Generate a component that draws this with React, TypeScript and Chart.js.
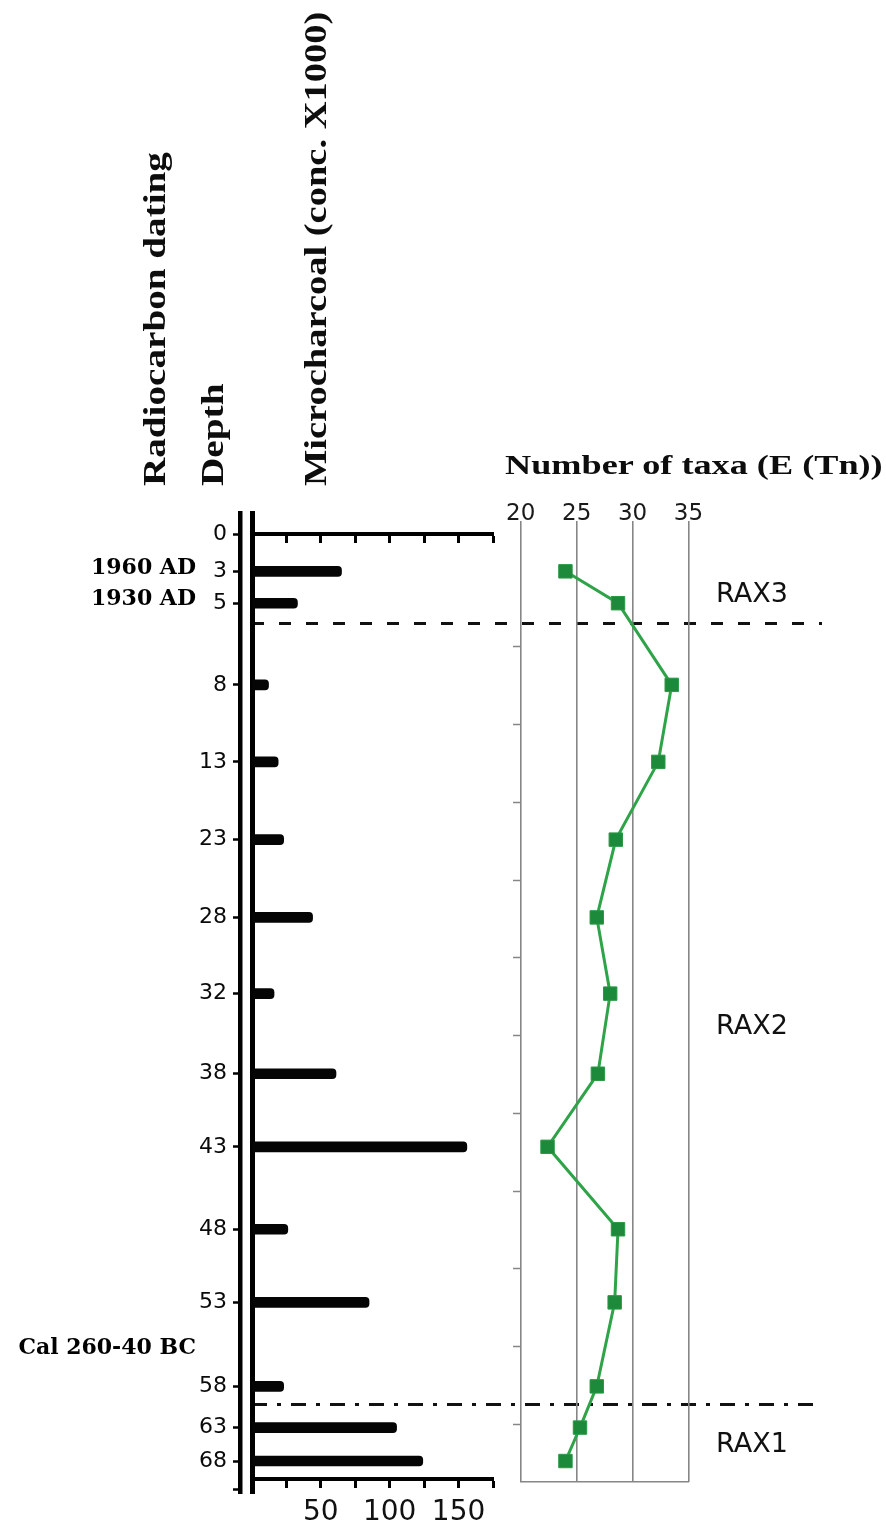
import React, { useEffect, useLayoutEffect, useRef } from 'react';
import { Chart, registerables } from 'chart.js';

Chart.register(...registerables);

// ---------------- data ----------------
const depthLabels = ['0', '3', '5', '8', '13', '23', '28', '32', '38', '43', '48', '53', '58', '63', '68'];
// position of each sampled depth along the (irregular) depth column, in row units
const depthLevels = [0, 0.48, 0.89, 1.94, 2.93, 3.93, 4.93, 5.91, 6.94, 7.88, 8.94, 9.88, 10.96, 11.49, 11.92];
// microcharcoal concentration (x1000) for depths 3 ... 68
const microcharcoal = [65, 33, 12, 19, 23, 44, 16, 61, 156, 26, 85, 23, 105, 124];
// number of taxa E(Tn) for depths 3 ... 68
const taxaNumber = [24.0, 28.7, 33.5, 32.3, 28.5, 26.8, 28.0, 26.9, 22.4, 28.7, 28.4, 26.8, 25.3, 24.0];
const datingLabels = ['1960 AD', '1930 AD', 'Cal 260-40 BC'];
const datingLevels = [0.44, 0.84, 10.47];
const zoneLabels = ['RAX3', 'RAX2', 'RAX1'];
const zoneLabelLevels = [0.78, 6.34, 11.71];
const zoneBoundaryDashed = [1.157];
const zoneBoundaryDashDot = [11.187];
const depthAxisEndLevel = 12.29;
const charcoalTicks = [0, 25, 50, 75, 100, 125, 150, 175];
const charcoalTickLabels = [50, 100, 150];
const charcoalAxisLevel = 12.15;
const taxaTicks = [20, 25, 30, 35];
const taxaRowTicks = [1.45, 2.45, 3.45, 4.45, 5.45, 6.45, 7.45, 8.45, 9.45, 10.45, 11.45];

// ---------------- layout ----------------
const PAGE_W = 886;
const PAGE_H = 1527;
const LEVEL_ORIGIN_PX = 534;
const LEVEL_PX = 77.77;
const toLevel = (px: number) => (px - LEVEL_ORIGIN_PX) / LEVEL_PX;
const BAR_AREA = { left: 252, right: 493, top: 513, bottom: 1493 };
const DATE_AXIS_LEFT = 8;
const DEPTH_LABEL_LEFT = 196;
const DEPTH_AXIS_X = 240;
const TAXA_AREA = { left: 493, right: 822, top: 521, bottom: 1482 };
const TAXA_LABEL_BAND = 30;
const TAXA_LEFT_PX = 520.7;
const TAXA_RIGHT_PX = 688.5;

const SANS = '"DejaVu Sans", "Liberation Sans", sans-serif';
const SERIF = '"DejaVu Serif", "Liberation Serif", serif';
const GRID_GRAY = '#868686';
const DASH = [12, 15];
const DASH_DOT = [15, 10, 4, 10];
const dashLen = (d: number[]) => d.reduce((a, b) => a + b, 0);

type Range = { min: number; max: number };
const rangeFor = (area: { top: number; bottom: number }): Range => ({ min: toLevel(area.top), max: toLevel(area.bottom) });
const setTicks = (values: number[]) => (scale: any) => {
  scale.ticks = values.map((value) => ({ value }));
};
const fixSize = (w?: number, h?: number) => (scale: any) => {
  if (w !== undefined) scale.width = w;
  if (h !== undefined) scale.height = h;
  scale.paddingTop = 0;
  scale.paddingBottom = 0;
  scale.paddingLeft = 0;
  scale.paddingRight = 0;
};
const levelAxis = (range: Range) => ({
  axis: 'y',
  type: 'linear',
  reverse: true,
  offset: false,
  min: range.min,
  max: range.max,
});

function boundaryAxis(range: Range, levels: number[], dash: number[], dashOffset: number) {
  return {
    ...levelAxis(range),
    position: 'right',
    afterBuildTicks: setTicks(levels),
    ticks: { display: false },
    grid: { offset: false, drawOnChartArea: true, drawTicks: false, color: '#111', lineWidth: 3 },
    border: { display: false, dash, dashOffset },
    afterFit: fixSize(0, undefined),
  };
}

function buildCharcoalChart(canvas: HTMLCanvasElement) {
  const range = rangeFor(BAR_AREA);
  const barAxisBase = {
    axis: 'x',
    type: 'linear',
    offset: false,
    min: charcoalTicks[0],
    max: charcoalTicks[charcoalTicks.length - 1],
    afterBuildTicks: setTicks(charcoalTicks),
    grid: { offset: false, drawOnChartArea: false, drawTicks: true, tickLength: 7, tickWidth: 3, tickColor: '#000' },
    border: { display: true, color: '#000', width: 4 },
    afterFit: fixSize(undefined, 0),
  };
  return new Chart(canvas, {
    type: 'bar',
    data: {
      datasets: [
        {
          type: 'bar',
          label: 'Microcharcoal (conc. X1000)',
          data: microcharcoal.map((v, i) => ({ x: v, y: depthLevels[i + 1] })),
          xAxisID: 'xBar',
          yAxisID: 'y',
          indexAxis: 'y',
          backgroundColor: '#050505',
          borderWidth: 0,
          barThickness: 10,
          borderRadius: 4,
          borderSkipped: 'start',
        } as any,
      ],
    },
    options: {
      responsive: false,
      animation: false,
      devicePixelRatio: 1,
      indexAxis: 'y',
      events: [],
      layout: {
        padding: { left: DATE_AXIS_LEFT, right: PAGE_W - BAR_AREA.right, top: BAR_AREA.top, bottom: PAGE_H - BAR_AREA.bottom },
      },
      plugins: { legend: { display: false }, tooltip: { enabled: false } },
      scales: {
        yBase: {
          ...levelAxis(range),
          position: 'left',
          weight: 0,
          grid: { offset: false, display: false, drawTicks: false },
          ticks: { display: false },
          border: { display: true, color: '#000', width: 5 },
          afterFit: fixSize(BAR_AREA.left - DEPTH_AXIS_X, undefined),
        },
        y: {
          ...levelAxis(range),
          position: 'left',
          weight: 1,
          afterBuildTicks: setTicks([...depthLevels, depthAxisEndLevel]),
          ticks: {
            autoSkip: false,
            callback: (_v: any, i: number) => depthLabels[i] ?? '',
            font: { family: SANS, size: 22 },
            color: '#0a0a0a',
            padding: 6,
          },
          grid: { offset: false, drawOnChartArea: false, drawTicks: true, tickLength: 7, tickWidth: 2.5, tickColor: '#000' },
          border: { display: true, color: '#000', width: 4.5 },
          afterFit: fixSize(DEPTH_AXIS_X - DEPTH_LABEL_LEFT, undefined),
        },
        yDate: {
          ...levelAxis(range),
          position: 'left',
          weight: 2,
          afterBuildTicks: setTicks(datingLevels),
          ticks: {
            autoSkip: false,
            callback: (_v: any, i: number) => datingLabels[i],
            font: { family: SERIF, size: 22, weight: 'bold' },
            color: '#000',
            padding: 0,
          },
          grid: { offset: false, display: false, drawTicks: false, tickLength: 0 },
          border: { display: false },
          afterFit: fixSize(DEPTH_LABEL_LEFT - DATE_AXIS_LEFT, undefined),
        },
        yDash: boundaryAxis(range, zoneBoundaryDashed, DASH, 0),
        yDashDot: boundaryAxis(range, zoneBoundaryDashDot, DASH_DOT, 0),
        xBar: {
          ...barAxisBase,
          position: { y: charcoalAxisLevel },
          ticks: {
            autoSkip: false,
            maxRotation: 0,
            minRotation: 0,
            callback: (v: any) => (charcoalTickLabels.includes(Number(v)) ? String(v) : ''),
            font: { family: SANS, size: 28 },
            color: '#111',
            padding: 10,
          },
        },
        xBarTop: {
          ...barAxisBase,
          position: { y: depthLevels[0] },
          ticks: { display: false },
        },
      } as any,
    },
  } as any);
}

function buildTaxaChart(canvas: HTMLCanvasElement) {
  const range = rangeFor(TAXA_AREA);
  const first = taxaTicks[0];
  const last = taxaTicks[taxaTicks.length - 1];
  const pxPerTaxon = (TAXA_RIGHT_PX - TAXA_LEFT_PX) / (last - first);
  const taxaMin = first - (TAXA_LEFT_PX - TAXA_AREA.left) / pxPerTaxon;
  const taxaMax = last + (TAXA_AREA.right - TAXA_RIGHT_PX) / pxPerTaxon;
  const shift = TAXA_AREA.left - BAR_AREA.left;
  const frameAxis = (weight: number) => ({
    axis: 'x',
    type: 'linear',
    position: 'bottom',
    stack: 'frame',
    stackWeight: weight,
    afterFit: fixSize(undefined, 0),
  });
  return new Chart(canvas, {
    type: 'line',
    data: {
      datasets: [
        {
          type: 'line',
          label: 'Number of taxa (E (Tn))',
          data: taxaNumber.map((v, i) => ({ x: v, y: depthLevels[i + 1] })),
          xAxisID: 'xT',
          yAxisID: 'y',
          indexAxis: 'y',
          borderColor: '#2ea348',
          borderWidth: 3,
          tension: 0,
          fill: false,
          pointStyle: 'rect',
          pointRadius: 9.5,
          pointBackgroundColor: '#1c8a3a',
          pointBorderColor: '#2a9945',
          pointBorderWidth: 1,
        } as any,
      ],
    },
    options: {
      responsive: false,
      animation: false,
      devicePixelRatio: 1,
      indexAxis: 'y',
      events: [],
      layout: {
        padding: {
          left: TAXA_AREA.left,
          right: PAGE_W - TAXA_AREA.right,
          top: TAXA_AREA.top - TAXA_LABEL_BAND,
          bottom: PAGE_H - TAXA_AREA.bottom,
        },
      },
      plugins: { legend: { display: false }, tooltip: { enabled: false } },
      scales: {
        y: { ...levelAxis(range), position: 'left', display: false, afterFit: fixSize(0, undefined) },
        yZone: {
          ...levelAxis(range),
          position: 'left',
          afterBuildTicks: setTicks(zoneLabelLevels),
          ticks: {
            mirror: true,
            padding: 223,
            autoSkip: false,
            callback: (_v: any, i: number) => zoneLabels[i],
            font: { family: SANS, size: 27 },
            color: '#111',
          },
          grid: { offset: false, display: false, drawTicks: false },
          border: { display: false },
          afterFit: fixSize(0, undefined),
        },
        yRows: {
          ...levelAxis(range),
          position: { xT: first },
          afterBuildTicks: setTicks(taxaRowTicks),
          ticks: { display: false },
          grid: { offset: false, drawOnChartArea: false, drawTicks: true, tickLength: 8, tickWidth: 1.5, tickColor: GRID_GRAY },
          border: { display: false },
          afterFit: fixSize(0, undefined),
        },
        yDash: boundaryAxis(range, zoneBoundaryDashed, DASH, shift % dashLen(DASH)),
        yDashDot: boundaryAxis(range, zoneBoundaryDashDot, DASH_DOT, shift % dashLen(DASH_DOT)),
        xT: {
          axis: 'x',
          type: 'linear',
          position: 'top',
          offset: false,
          min: taxaMin,
          max: taxaMax,
          afterBuildTicks: setTicks(taxaTicks),
          ticks: {
            autoSkip: false,
            maxRotation: 0,
            minRotation: 0,
            padding: -7,
            font: { family: SANS, size: 23 },
            color: '#1a1a1a',
          },
          grid: { offset: false, drawOnChartArea: true, drawTicks: false, color: GRID_GRAY, lineWidth: 1.6 },
          border: { display: false },
          afterFit: fixSize(undefined, TAXA_LABEL_BAND),
        },
        xFrameL: { ...frameAxis(TAXA_LEFT_PX - TAXA_AREA.left), display: false },
        xFrame: {
          ...frameAxis(TAXA_RIGHT_PX - TAXA_LEFT_PX),
          grid: { display: false, drawTicks: false },
          ticks: { display: false },
          border: { display: true, color: GRID_GRAY, width: 1.6 },
        },
        xFrameR: { ...frameAxis(TAXA_AREA.right - TAXA_RIGHT_PX), display: false },
      } as any,
    },
  } as any);
}

// ---------------- titles ----------------
type TitleProps = { text: string; left: number; top: number; size: number; length: number; vertical: boolean };
const titles: TitleProps[] = [
  { text: 'Radiocarbon dating', left: 138, top: 486, size: 32, length: 334, vertical: true },
  { text: 'Depth', left: 196, top: 486, size: 32, length: 103, vertical: true },
  { text: 'Microcharcoal (conc. X1000)', left: 299, top: 486, size: 32, length: 474, vertical: true },
  { text: 'Number of taxa (E (Tn))', left: 505, top: 452, size: 27, length: 377, vertical: false },
];

function FitText({ text, left, top, size, length, vertical }: TitleProps) {
  const ref = useRef<HTMLSpanElement>(null);
  useLayoutEffect(() => {
    const el = ref.current;
    if (!el) return;
    const natural = el.offsetWidth || 1;
    const s = length / natural;
    el.style.transform = vertical ? `rotate(-90deg) scaleX(${s})` : `scaleX(${s})`;
  }, [text, length, vertical]);
  return (
    <span
      ref={ref}
      style={{
        position: 'absolute',
        left,
        top,
        display: 'block',
        fontFamily: '"Liberation Serif", "Times New Roman", serif',
        fontWeight: 700,
        fontSize: size,
        lineHeight: `${size}px`,
        whiteSpace: 'nowrap',
        transformOrigin: '0 0',
        color: '#0d0d0d',
      }}
    >
      {text}
    </span>
  );
}

export default function App() {
  const barRef = useRef<HTMLCanvasElement>(null);
  const taxaRef = useRef<HTMLCanvasElement>(null);
  useEffect(() => {
    const a = buildCharcoalChart(barRef.current as HTMLCanvasElement);
    const b = buildTaxaChart(taxaRef.current as HTMLCanvasElement);
    return () => {
      a.destroy();
      b.destroy();
    };
  }, []);
  const canvasStyle: React.CSSProperties = { position: 'absolute', left: 0, top: 0, width: PAGE_W, height: PAGE_H };
  return (
    <div style={{ position: 'absolute', left: 0, top: 0, width: PAGE_W, height: PAGE_H, overflow: 'hidden', background: '#fff' }}>
      <canvas ref={taxaRef} width={PAGE_W} height={PAGE_H} style={canvasStyle} />
      <canvas ref={barRef} width={PAGE_W} height={PAGE_H} style={canvasStyle} />
      {titles.map((t) => (
        <FitText key={t.text} {...t} />
      ))}
    </div>
  );
}
